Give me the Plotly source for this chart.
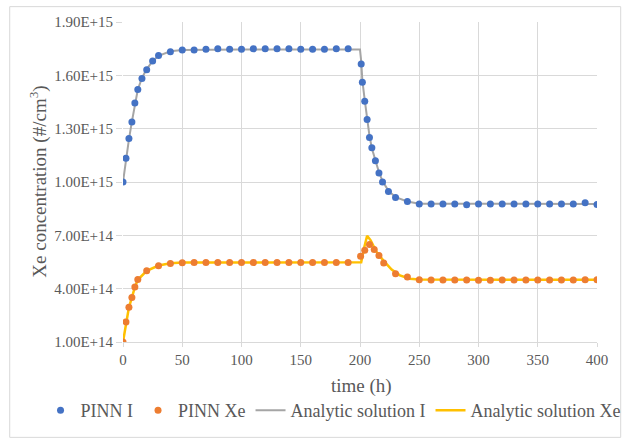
import plotly.graph_objects as go

# ---------------- data ----------------
pinn_I_t = [0, 2.5, 5, 7.5, 10, 12.5, 16, 20, 25, 30, 40,
            50, 60, 70, 80, 90, 100, 110, 120, 130, 140, 150, 160, 170, 180, 190,
            201, 202, 204, 206, 208, 210, 213, 216, 219, 224, 230, 240,
            250, 260, 270, 280, 290, 300, 310, 320, 330, 340, 350, 360, 370, 380, 390, 400]
pinn_I_v = [1.000e15, 1.133e15, 1.244e15, 1.338e15, 1.445e15, 1.520e15, 1.582e15, 1.632e15, 1.681e15, 1.711e15, 1.733e15,
            1.743e15, 1.743e15, 1.747e15, 1.749e15, 1.747e15, 1.747e15, 1.749e15, 1.749e15, 1.749e15, 1.749e15,
            1.747e15, 1.747e15, 1.747e15, 1.749e15, 1.749e15,
            1.664e15, 1.561e15, 1.454e15, 1.351e15, 1.250e15, 1.192e15, 1.120e15, 1.051e15, 1.000e15, 0.947e15, 0.913e15, 0.891e15,
            0.876e15, 0.876e15, 0.876e15, 0.876e15, 0.872e15, 0.876e15, 0.876e15, 0.876e15, 0.876e15, 0.876e15,
            0.876e15, 0.876e15, 0.876e15, 0.876e15, 0.883e15, 0.874e15]

pinn_Xe_t = [0, 2.5, 5, 7.5, 10, 12.5, 20, 30, 40,
             50, 60, 70, 80, 90, 100, 110, 120, 130, 140, 150, 160, 170, 180, 190,
             200.5, 204, 208, 212, 216, 220, 230, 240,
             250, 260, 270, 280, 290, 300, 310, 320, 330, 340, 350, 360, 370, 380, 390, 400]
pinn_Xe_v = [1.00e14, 2.13e14, 2.96e14, 3.51e14, 4.09e14, 4.51e14, 5.01e14, 5.29e14, 5.42e14,
             5.46e14, 5.47e14, 5.47e14, 5.47e14, 5.47e14, 5.47e14, 5.47e14, 5.47e14, 5.47e14, 5.47e14,
             5.47e14, 5.47e14, 5.47e14, 5.47e14, 5.47e14,
             5.82e14, 6.16e14, 6.48e14, 6.20e14, 5.87e14, 5.44e14, 4.84e14, 4.65e14,
             4.50e14, 4.49e14, 4.49e14, 4.49e14, 4.49e14, 4.47e14, 4.47e14, 4.49e14, 4.49e14, 4.49e14,
             4.49e14, 4.49e14, 4.49e14, 4.49e14, 4.50e14, 4.50e14]

ana_I_t = [0, 2.5, 5, 7.5, 10, 12.5, 16, 20, 25, 30, 40, 50, 100, 150, 200,
           201, 202, 204, 206, 208, 210, 213, 216, 219, 224, 230, 240, 250, 300, 350, 400]
ana_I_v = [1.000e15, 1.130e15, 1.240e15, 1.340e15, 1.440e15, 1.520e15, 1.585e15, 1.635e15, 1.680e15, 1.710e15,
           1.735e15, 1.743e15, 1.745e15, 1.745e15, 1.745e15,
           1.680e15, 1.570e15, 1.460e15, 1.355e15, 1.260e15, 1.190e15, 1.120e15, 1.055e15, 1.005e15, 0.950e15,
           0.915e15, 0.890e15, 0.878e15, 0.876e15, 0.876e15, 0.876e15]

ana_Xe_t = [0, 2.5, 5, 7.5, 10, 12.5, 20, 30, 40, 50, 100, 150, 201,
            203.5, 206, 209, 214, 219.6, 226.7, 233.7, 242, 250, 300, 350, 400]
ana_Xe_v = [1.00e14, 2.10e14, 2.95e14, 3.50e14, 4.08e14, 4.50e14, 5.00e14, 5.30e14, 5.43e14, 5.47e14,
            5.48e14, 5.48e14, 5.48e14,
            6.30e14, 6.98e14, 6.72e14, 6.06e14, 5.59e14, 5.07e14, 4.75e14, 4.56e14, 4.51e14,
            4.50e14, 4.50e14, 4.50e14]

x_ticks = [0, 50, 100, 150, 200, 250, 300, 350, 400]
y_tick_vals = [1.0e14, 4.0e14, 7.0e14, 1.0e15, 1.3e15, 1.6e15, 1.9e15]
y_tick_text = ["1.00E+14", "4.00E+14", "7.00E+14", "1.00E+15", "1.30E+15", "1.60E+15", "1.90E+15"]

# ---------------- figure ----------------
FONT = "Liberation Serif, Times New Roman, DejaVu Serif, serif"
TXT = "#595959"
GRID = "#D9D9D9"

fig = go.Figure()
fig.add_trace(go.Scatter(x=ana_I_t, y=ana_I_v, mode="lines", name="Analytic solution I",
                         line=dict(color="#A5A5A5", width=2), legendrank=3))
fig.add_trace(go.Scatter(x=ana_Xe_t, y=ana_Xe_v, mode="lines", name="Analytic solution Xe",
                         line=dict(color="#FFC000", width=2.5), legendrank=4))
fig.add_trace(go.Scatter(x=pinn_I_t, y=pinn_I_v, mode="markers", name="PINN I",
                         marker=dict(color="#4472C4", size=7), legendrank=1))
fig.add_trace(go.Scatter(x=pinn_Xe_t, y=pinn_Xe_v, mode="markers", name="PINN Xe",
                         marker=dict(color="#ED7D31", size=7), legendrank=2))

fig.update_layout(
    width=631, height=438,
    margin=dict(l=123, r=34, t=22, b=96, autoexpand=False),
    paper_bgcolor="white", plot_bgcolor="white",
    font=dict(family=FONT, color=TXT, size=15),
    showlegend=True,
    legend=dict(orientation="h", x=-0.174, xanchor="left", y=-0.214, yanchor="middle",
                font=dict(size=18, color=TXT, family=FONT), itemwidth=30, tracegroupgap=0,
                traceorder="normal", bgcolor="rgba(0,0,0,0)"),
    xaxis=dict(range=[0, 400], tickvals=x_ticks, showgrid=True, gridcolor=GRID, gridwidth=1,
               zeroline=False, showline=True, linecolor=GRID, linewidth=1,
               ticks="outside", ticklen=4, tickcolor=GRID,
               tickfont=dict(size=15, color=TXT, family=FONT)),
    yaxis=dict(range=[1.0e14, 1.9e15], tickvals=y_tick_vals, ticktext=y_tick_text,
               showgrid=True, gridcolor=GRID, gridwidth=1, zeroline=False, showline=False,
               ticks="outside", ticklen=6, tickcolor=GRID,
               tickfont=dict(size=15, color=TXT, family=FONT)),
    annotations=[
        dict(text="time (h)", xref="paper", yref="paper", x=0.504, y=-0.136,
             xanchor="center", yanchor="middle", showarrow=False,
             font=dict(size=19, color=TXT, family=FONT)),
        dict(text="Xe concentration (#/cm<sup>3</sup>)", xref="paper", yref="paper",
             x=-0.18, y=0.5, xanchor="center", yanchor="middle", textangle=-90,
             showarrow=False, font=dict(size=19, color=TXT, family=FONT)),
    ],
    shapes=[dict(type="rect", xref="paper", yref="paper", x0=-0.239, x1=1.05,
                 y0=-0.298, y1=1.048, line=dict(color=GRID, width=1), layer="below")],
)

fig.write_html("out.html", config={"displayModeBar": False},
               post_script="document.body.style.margin='0px';document.body.style.overflow='hidden';")
